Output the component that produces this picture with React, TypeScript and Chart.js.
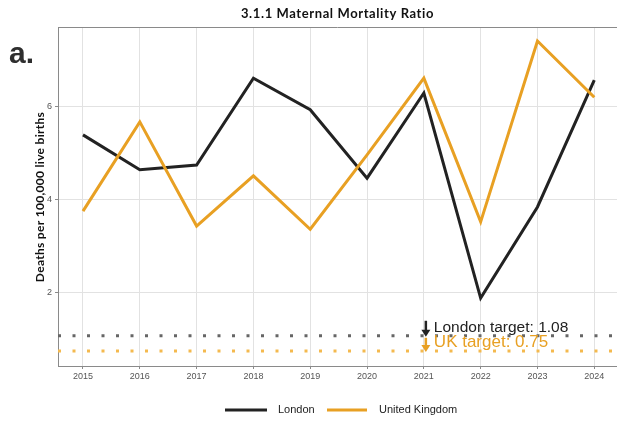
import React, { useEffect, useRef } from "react";
import { Chart, registerables } from "chart.js";

Chart.register(...registerables);

const years = [2015, 2016, 2017, 2018, 2019, 2020, 2021, 2022, 2023, 2024];
const london = [5.4, 4.65, 4.75, 6.62, 5.94, 4.47, 6.3, 1.89, 3.85, 6.58];
const uk = [3.76, 5.68, 3.44, 4.52, 3.37, 4.97, 6.62, 3.53, 7.42, 6.21];
const londonTarget = 1.08;
const ukTarget = 0.75;
const yTicks = [2, 4, 6];
const seriesNames = ["London", "United Kingdom"];
const titleText = "3.1.1 Maternal Mortality Ratio";
const yTitle = "Deaths per 100,000 live births";

const X_MIN = 2014.56;
const X_MAX = 2024.4;
const Y_MIN = 0.43;
const Y_MAX = 7.72;

const BLACK = "#222222";
const ORANGE = "#E8A023";

export default function App() {
  const ref = useRef<HTMLCanvasElement>(null);
  useEffect(() => {
    document.body.style.margin = "0";
    const canvas = ref.current!;
    const overlay = {
      id: "overlay",
      afterDraw(chart: any) {
        const ctx = chart.ctx;
        const ca = chart.chartArea;
        const xs = chart.scales.x;
        const ys = chart.scales.y;
        ctx.save();
        // top border
        ctx.strokeStyle = "#8a8a8a";
        ctx.lineWidth = 1;
        ctx.beginPath();
        ctx.moveTo(ca.left, ca.top + 0.5);
        ctx.lineTo(ca.right, ca.top + 0.5);
        ctx.stroke();
        // title
        ctx.fillStyle = "#111";
        ctx.font = "bold 13px Lato";
        (ctx as any).letterSpacing = "0.6px";
        ctx.textAlign = "center";
        ctx.textBaseline = "middle";
        ctx.fillText(titleText, (ca.left + ca.right) / 2, 14);
        // y title
        ctx.save();
        (ctx as any).letterSpacing = "0.3px";
        ctx.translate(40, 197);
        ctx.rotate(-Math.PI / 2);
        ctx.fillStyle = "#111";
        ctx.font = "bold 12px Lato";
        ctx.textAlign = "center";
        ctx.fillText(yTitle, 0, 0);
        ctx.restore();
        (ctx as any).letterSpacing = "0px";
        // a.
        ctx.fillStyle = "#2e2e2e";
        ctx.font = "bold 30px 'Liberation Sans'";
        ctx.textAlign = "left";
        ctx.textBaseline = "alphabetic";
        ctx.fillText("a.", 9, 63);
        // arrows and annotations
        const ax = xs.getPixelForValue(2021) + 2;
        const lY = ys.getPixelForValue(londonTarget);
        const uY = ys.getPixelForValue(ukTarget);
        const arrow = (x: number, y0: number, y1: number, color: string) => {
          ctx.strokeStyle = color;
          ctx.fillStyle = color;
          ctx.lineWidth = 2.5;
          ctx.beginPath();
          ctx.moveTo(x, y0);
          ctx.lineTo(x, y1 - 4);
          ctx.stroke();
          ctx.beginPath();
          ctx.moveTo(x - 4.5, y1 - 7);
          ctx.lineTo(x + 4.5, y1 - 7);
          ctx.lineTo(x, y1);
          ctx.closePath();
          ctx.fill();
        };
        arrow(ax, lY - 15, lY + 1, BLACK);
        arrow(ax, lY + 2, uY + 1, ORANGE);
        ctx.textAlign = "left";
        ctx.textBaseline = "middle";
        ctx.fillStyle = BLACK;
        ctx.font = "15.5px 'Liberation Sans'";
        ctx.fillText(`London target: ${londonTarget.toFixed(2)}`, ax + 8, lY - 8);
        ctx.fillStyle = ORANGE;
        ctx.font = "17px 'Liberation Sans'";
        ctx.fillText(`UK target: ${ukTarget.toFixed(2)}`, ax + 8, uY - 9);
        // legend
        const ly = 410;
        ctx.lineWidth = 3;
        ctx.strokeStyle = BLACK;
        ctx.beginPath();
        ctx.moveTo(225, ly);
        ctx.lineTo(267, ly);
        ctx.stroke();
        ctx.strokeStyle = ORANGE;
        ctx.beginPath();
        ctx.moveTo(327, ly);
        ctx.lineTo(367, ly);
        ctx.stroke();
        ctx.font = "11px 'Liberation Sans'";
        ctx.fillStyle = "#222";
        ctx.fillText(seriesNames[0], 278, ly);
        ctx.fillText(seriesNames[1], 379, ly);
        ctx.restore();
      },
    };
    const chart = new Chart(canvas, {
      type: "line",
      data: {
        datasets: [
          {
            label: seriesNames[1],
            data: years.map((x, i) => ({ x, y: uk[i] })),
            borderColor: ORANGE,
            borderWidth: 3,
            pointRadius: 0,
            tension: 0,
            order: 1,
          },
          {
            label: seriesNames[0],
            data: years.map((x, i) => ({ x, y: london[i] })),
            borderColor: BLACK,
            borderWidth: 3,
            pointRadius: 0,
            tension: 0,
            order: 2,
          },
          {
            label: "London target",
            data: [
              { x: X_MIN, y: londonTarget },
              { x: X_MAX, y: londonTarget },
            ],
            borderColor: "#666666",
            borderWidth: 3,
            borderDash: [3, 11.5],
            pointRadius: 0,
            order: 3,
          },
          {
            label: "UK target",
            data: [
              { x: X_MIN, y: ukTarget },
              { x: X_MAX, y: ukTarget },
            ],
            borderColor: "#F4B94E",
            borderWidth: 3,
            borderDash: [3, 11.5],
            pointRadius: 0,
            order: 3,
          },
        ],
      },
      options: {
        animation: false,
        responsive: false,
        maintainAspectRatio: false,
        layout: { padding: { top: 27, left: 0, right: 0, bottom: 0 } },
        plugins: { legend: { display: false }, tooltip: { enabled: false }, title: { display: false } },
        scales: {
          x: {
            type: "linear",
            min: X_MIN,
            max: X_MAX,
            afterBuildTicks: (s: any) => {
              s.ticks = years.map((v) => ({ value: v }));
            },
            afterFit: (s: any) => {
              s.height = 55;
            },
            ticks: {
              callback: (v: any) => String(v),
              font: { size: 9, family: "'Liberation Sans'" },
              color: "#555",
              padding: 2,
              maxRotation: 0,
              autoSkip: false,
            },
            grid: { color: "#e2e2e2", lineWidth: 1, tickLength: 3, tickColor: "#8a8a8a" },
            border: { display: true, color: "#8a8a8a", width: 1 },
          },
          y: {
            type: "linear",
            min: Y_MIN,
            max: Y_MAX,
            afterBuildTicks: (s: any) => {
              s.ticks = yTicks.map((v) => ({ value: v }));
            },
            afterFit: (s: any) => {
              s.width = 58;
            },
            ticks: {
              font: { size: 9, family: "'Liberation Sans'" },
              color: "#555",
              padding: 3,
            },
            grid: { color: "#e2e2e2", lineWidth: 1, tickLength: 3, tickColor: "#8a8a8a" },
            border: { display: true, color: "#8a8a8a", width: 1 },
          },
        },
      },
      plugins: [overlay],
    } as any);
    return () => chart.destroy();
  }, []);
  return (
    <div style={{ width: 617, height: 421 }}>
      <canvas ref={ref} width={617} height={421} style={{ display: "block" }} />
    </div>
  );
}
